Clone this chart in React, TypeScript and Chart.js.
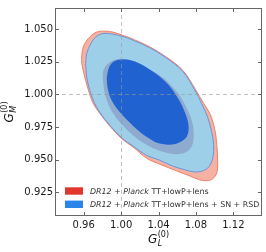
import React, { useEffect, useRef } from "react";
import { Chart, registerables } from "chart.js";
Chart.register(...registerables);

// Axis ranges and ticks
const xRange = [0.9293, 1.1506];
const yRange = [0.907, 1.0662];
const xTicks = [0.96, 1.0, 1.04, 1.08, 1.12];
const yTicks = [0.925, 0.95, 0.975, 1.0, 1.025, 1.05];
const refX = 1.0;
const refY = 1.0;

// DR12 + Planck, 2-sigma contour
const red2X = [0.9579, 0.9579, 0.9600, 0.9664, 0.9739, 0.9814, 0.9910, 1.0038, 1.0145, 1.0305, 1.0476, 1.0658, 1.0797, 1.0883, 1.0947, 1.1000, 1.1022, 1.1032, 1.1022, 1.0979, 1.0915, 1.0840, 1.0733, 1.0594, 1.0412, 1.0273, 1.0134, 1.0006, 0.9878, 0.9771, 0.9696, 0.9653, 0.9611];
const red2Y = [1.0238, 1.0298, 1.0373, 1.0440, 1.0478, 1.0485, 1.0478, 1.0448, 1.0418, 1.0365, 1.0290, 1.0186, 1.0036, 0.9931, 0.9856, 0.9737, 0.9617, 0.9490, 0.9400, 0.9355, 0.9340, 0.9347, 0.9377, 0.9415, 0.9467, 0.9512, 0.9594, 0.9662, 0.9759, 0.9856, 0.9939, 1.0028, 1.0133];
// DR12 + Planck + SN + RSD, 2-sigma contour
const blue2X = [0.9621, 0.9632, 0.9675, 0.9728, 0.9803, 0.9899, 1.0038, 1.0145, 1.0305, 1.0476, 1.0658, 1.0786, 1.0861, 1.0925, 1.0968, 1.0989, 1.0979, 1.0936, 1.0872, 1.0786, 1.0690, 1.0551, 1.0412, 1.0273, 1.0134, 1.0006, 0.9878, 0.9771, 0.9707, 0.9664, 0.9632];
const blue2Y = [1.0238, 1.0313, 1.0388, 1.0440, 1.0466, 1.0463, 1.0440, 1.0410, 1.0358, 1.0283, 1.0178, 1.0036, 0.9931, 0.9826, 0.9714, 0.9617, 0.9512, 0.9445, 0.9415, 0.9407, 0.9422, 0.9452, 0.9497, 0.9534, 0.9602, 0.9669, 0.9766, 0.9864, 0.9946, 1.0036, 1.0133];
// DR12 + Planck, 1-sigma contour
const red1X = [0.9803, 0.9814, 0.9878, 0.9963, 1.0145, 1.0412, 1.0605, 1.0712, 1.0765, 1.0776, 1.0754, 1.0690, 1.0594, 1.0466, 1.0305, 1.0145, 0.9985, 0.9878, 0.9824];
const red1Y = [1.0126, 1.0193, 1.0246, 1.0268, 1.0238, 1.0148, 1.0013, 0.9879, 0.9774, 0.9677, 0.9602, 0.9557, 0.9542, 0.9557, 0.9602, 0.9677, 0.9789, 0.9901, 1.0013];
// DR12 + Planck + SN + RSD, 1-sigma contour
const blue1X = [0.9846, 0.9867, 0.9910, 0.9985, 1.0113, 1.0252, 1.0466, 1.0605, 1.0690, 1.0722, 1.0701, 1.0637, 1.0541, 1.0412, 1.0305, 1.0177, 1.0006, 0.9899, 0.9857];
const blue1Y = [1.0126, 1.0201, 1.0246, 1.0268, 1.0260, 1.0216, 1.0103, 0.9976, 0.9849, 0.9752, 0.9677, 0.9639, 0.9617, 0.9624, 0.9662, 0.9729, 0.9849, 0.9954, 1.0043];

// Legend entries: [text, italic]
const legendRed: [string, boolean][] = [["DR12", true], [" + ", false], ["Planck", true], [" TT+lowP+lens", false]];
const legendBlue: [string, boolean][] = [["DR12", true], [" + ", false], ["Planck", true], [" TT+lowP+lens + SN + RSD", false]];
const xLabelSub = "L";
const yLabelSub = "M";
const labelSup = "(0)";

const FONT = "'DejaVu Sans', sans-serif";

function pts(xs: number[], ys: number[]) {
  const p = xs.map((x, i) => ({ x, y: ys[i] }));
  p.push({ x: xs[0], y: ys[0] });
  return p;
}

function drawMathLabel(ctx: CanvasRenderingContext2D, sub: string, cx: number, baseline: number) {
  ctx.font = `italic 12px ${FONT}`;
  const wG = ctx.measureText("G").width;
  ctx.font = `italic 8px ${FONT}`;
  const wSub = ctx.measureText(sub).width;
  ctx.font = `8px ${FONT}`;
  const wSup = ctx.measureText(labelSup).width;
  const total = wG + Math.max(wSub, wSup) + 0.5;
  let x = cx - total / 2;
  ctx.fillStyle = "#111";
  ctx.textAlign = "left";
  ctx.textBaseline = "alphabetic";
  ctx.font = `italic 12px ${FONT}`;
  ctx.fillText("G", x, baseline);
  ctx.font = `italic 8px ${FONT}`;
  ctx.fillText(sub, x + wG + 0.5, baseline + 3);
  ctx.font = `8px ${FONT}`;
  ctx.fillText(labelSup, x + wG + 0.5, baseline - 6);
}

const framePlugin = {
  id: "frame",
  afterDatasetsDraw(chart: any) {
    const { ctx, chartArea: a, scales } = chart;
    const xs = scales.x, ys = scales.y;
    ctx.save();
    ctx.beginPath();
    ctx.rect(a.left, a.top, a.right - a.left, a.bottom - a.top);
    ctx.clip();
    ctx.strokeStyle = "rgba(150,150,150,0.6)";
    ctx.lineWidth = 1;
    ctx.setLineDash([4, 3]);
    const px = Math.round(xs.getPixelForValue(refX)) + 0.5;
    const py = Math.round(ys.getPixelForValue(refY)) + 0.5;
    ctx.beginPath();
    ctx.moveTo(px, a.top);
    ctx.lineTo(px, a.bottom);
    ctx.moveTo(a.left, py);
    ctx.lineTo(a.right, py);
    ctx.stroke();
    ctx.restore();
  },
  afterDraw(chart: any) {
    const { ctx, chartArea: a, scales } = chart;
    const xs = scales.x, ys = scales.y;
    ctx.save();
    // frame
    ctx.strokeStyle = "#666";
    ctx.lineWidth = 1;
    ctx.strokeRect(a.left + 0.5, a.top + 0.5, a.right - a.left - 1, a.bottom - a.top - 1);
    // inward ticks
    ctx.beginPath();
    const tl = 4;
    for (const v of xTicks) {
      const p = Math.round(xs.getPixelForValue(v)) + 0.5;
      ctx.moveTo(p, a.bottom);
      ctx.lineTo(p, a.bottom - tl);
      ctx.moveTo(p, a.top);
      ctx.lineTo(p, a.top + tl);
    }
    for (const v of yTicks) {
      const p = Math.round(ys.getPixelForValue(v)) + 0.5;
      ctx.moveTo(a.left, p);
      ctx.lineTo(a.left + tl, p);
      ctx.moveTo(a.right, p);
      ctx.lineTo(a.right - tl, p);
    }
    ctx.stroke();

    // legend
    const entries: [string, [string, boolean][]][] = [
      ["#e2372d", legendRed],
      ["#2b84ea", legendBlue],
    ];
    entries.forEach(([col, segs], i) => {
      const cy = a.bottom - 25 + i * 13.3;
      ctx.fillStyle = col;
      ctx.fillRect(a.left + 10, cy - 3.7, 18, 7.4);
      let x = a.left + 35;
      ctx.fillStyle = "#333";
      ctx.textBaseline = "alphabetic";
      ctx.textAlign = "left";
      for (const [t, it] of segs) {
        ctx.font = `${it ? "italic " : ""}7.9px ${FONT}`;
        ctx.fillText(t, x, cy + 3);
        x += ctx.measureText(t).width;
      }
    });

    // axis titles
    drawMathLabel(ctx, xLabelSub, (a.left + a.right) / 2, 243);
    ctx.save();
    ctx.translate(13, (a.top + a.bottom) / 2);
    ctx.rotate(-Math.PI / 2);
    drawMathLabel(ctx, yLabelSub, 0, 0);
    ctx.restore();
    ctx.restore();
  },
};

export default function App() {
  const ref = useRef<HTMLCanvasElement>(null);
  useEffect(() => {
    const common = { fill: "shape", tension: 0.35, pointRadius: 0, borderWidth: 1 };
    const chart = new Chart(ref.current!, {
      type: "line",
      data: {
        datasets: [
          { ...common, label: "blue1", data: pts(blue1X, blue1Y), backgroundColor: "#2063d0", borderColor: "#2063d0", borderWidth: 0 },
          { ...common, label: "red1", data: pts(red1X, red1Y), backgroundColor: "#8eabcf", borderColor: "#8eabcf", borderWidth: 0 },
          { ...common, label: "blue2", data: pts(blue2X, blue2Y), backgroundColor: "#9dcfe9", borderColor: "#6f93d8" },
          { ...common, label: "red2", data: pts(red2X, red2Y), backgroundColor: "#f5b2a3", borderColor: "#ee7f6c" },
        ] as any,
      },
      options: {
        animation: false,
        responsive: false,
        maintainAspectRatio: false,
        devicePixelRatio: 1,
        layout: { padding: { left: 0, top: 3, right: 4, bottom: 0 } },
        plugins: { legend: { display: false }, tooltip: { enabled: false } },
        scales: {
          x: {
            type: "linear",
            min: xRange[0],
            max: xRange[1],
            grid: { display: false, drawTicks: false },
            border: { display: false },
            ticks: {
              font: { family: FONT, size: 10 },
              color: "#1a1a1a",
              padding: 3,
              autoSkip: false,
              maxRotation: 0,
              callback: (v: any) => Number(v).toFixed(2),
            },
            afterBuildTicks: (s: any) => {
              s.ticks = xTicks.map((v) => ({ value: v }));
            },
            afterFit: (s: any) => {
              s.height = 36;
            },
          },
          y: {
            type: "linear",
            min: yRange[0],
            max: yRange[1],
            grid: { display: false, drawTicks: false },
            border: { display: false },
            ticks: {
              font: { family: FONT, size: 10 },
              color: "#1a1a1a",
              padding: 2,
              autoSkip: false,
              callback: (v: any) => Number(v).toFixed(3),
            },
            afterBuildTicks: (s: any) => {
              s.ticks = yTicks.map((v) => ({ value: v }));
            },
            afterFit: (s: any) => {
              s.width = 55;
            },
          },
        },
      } as any,
      plugins: [framePlugin],
    });
    return () => chart.destroy();
  }, []);
  return (
    <div style={{ position: "absolute", left: 0, top: 0, width: 266, height: 252 }}>
      <canvas ref={ref} width={266} height={252} style={{ display: "block", width: 266, height: 252 }} />
    </div>
  );
}
